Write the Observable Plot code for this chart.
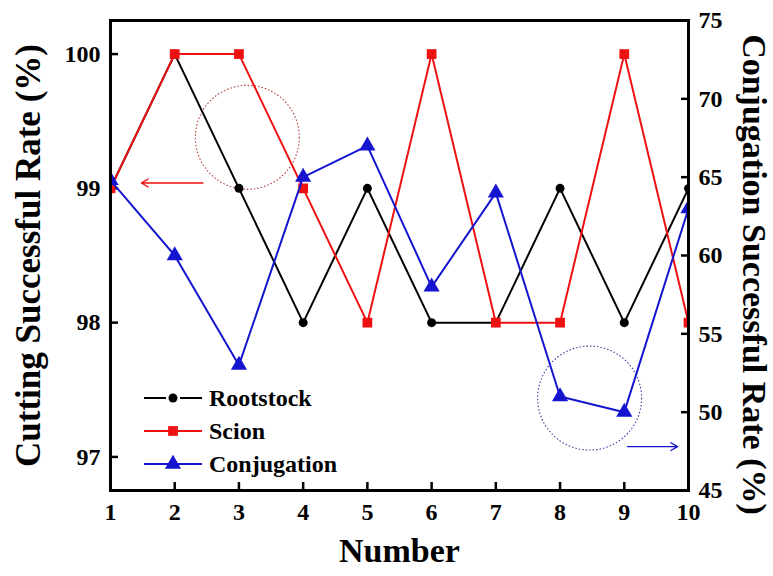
<!DOCTYPE html>
<html>
<head>
<meta charset="utf-8">
<script src="https://cdn.jsdelivr.net/npm/d3@7"></script>
<script src="https://cdn.jsdelivr.net/npm/@observablehq/plot@0.6"></script>
<style>
  html, body { margin: 0; padding: 0; background: #fff; }
  #chart { width: 773px; height: 576px; }
</style>
</head>
<body>
<div id="chart"></div>
<script>
// ---- data ----
const numbers = [1, 2, 3, 4, 5, 6, 7, 8, 9, 10];
const rootstock = [99, 100, 99, 98, 99, 98, 98, 99, 98, 99];
const scion = [99, 100, 100, 99, 98, 100, 98, 98, 100, 98];
const conjugation = [64.8, 60, 53, 65, 67, 58, 64, 51, 50, 63];
const seriesNames = ["Rootstock", "Scion", "Conjugation"];
const seriesColors = ["#000000", "#ee1111", "#1515d0"];
const seriesSymbols = ["circle", "square", "triangle"];
const xTicks = [1, 2, 3, 4, 5, 6, 7, 8, 9, 10];
const leftTicks = [97, 98, 99, 100];
const rightTicks = [45, 50, 55, 60, 65, 70, 75];
const leftDomain = [96.75, 100.25];
const rightDomain = [45, 75];
// annotations (dotted circles and arrows)
const circleX = [3.13, 8.46];
const circleY = [99.38, 50.9];
const circleAxis = ["left", "right"];
const circleColor = ["#b03a3a", "#3a3aa0"];
const arrowX1 = [2.44, 9.05];
const arrowX2 = [1.48, 9.83];
const arrowY = [99.04, 47.8];
const arrowAxis = ["left", "right"];
const arrowColor = ["#ee1111", "#1515d0"];

const FONT = "'Liberation Serif', 'Times New Roman', serif";
const toLeft = v => leftDomain[0] + (v - rightDomain[0]) * (leftDomain[1] - leftDomain[0]) / (rightDomain[1] - rightDomain[0]);
const fromLeft = v => rightDomain[0] + (v - leftDomain[0]) * (rightDomain[1] - rightDomain[0]) / (leftDomain[1] - leftDomain[0]);

const rows = numbers.map((n, i) => ({n, root: rootstock[i], scion: scion[i], conj: toLeft(conjugation[i])}));
const circles = circleX.map((x, i) => ({x, y: circleAxis[i] === "left" ? circleY[i] : toLeft(circleY[i]), c: circleColor[i]}));
const arrows = arrowX1.map((x1, i) => {
  const y = arrowAxis[i] === "left" ? arrowY[i] : toLeft(arrowY[i]);
  return {x1, x2: arrowX2[i], y1: y, y2: y, c: arrowColor[i]};
});

const keys = ["root", "scion", "conj"];
const lineMarks = keys.flatMap((k, i) => [
  Plot.line(rows, {x: "n", y: k, stroke: seriesColors[i], strokeWidth: 2, clip: true}),
  Plot.dot(rows, {x: "n", y: k, fill: seriesColors[i], symbol: seriesSymbols[i], r: i === 0 ? 4.5 : (i === 2 ? 6 : 5.5), clip: true})
]);

const plot = Plot.plot({
  width: 773,
  height: 576,
  marginLeft: 110,
  marginRight: 85,
  marginTop: 20,
  marginBottom: 86,
  style: {fontFamily: FONT, background: "#fff"},
  x: {domain: [1, 10]},
  y: {domain: leftDomain},
  marks: [
    Plot.axisX({ticks: xTicks, tickFormat: d => String(d), tickSize: -8, tickPadding: 20, fontSize: 24, fontWeight: "bold", label: null, strokeWidth: 2.5}),
    Plot.axisY({ticks: leftTicks, tickFormat: d => String(d), tickSize: -8, tickPadding: 18, fontSize: 24, fontWeight: "bold", label: null, strokeWidth: 2.5}),
    Plot.axisY({anchor: "right", ticks: rightTicks.map(toLeft), tickFormat: d => String(Math.round(fromLeft(d))), tickSize: -8, tickPadding: 18, fontSize: 24, fontWeight: "bold", label: null, strokeWidth: 2.5}),
    Plot.dot(circles, {x: "x", y: "y", r: 52, stroke: "c", strokeWidth: 1.1, strokeDasharray: "1.5,2"}),
    Plot.arrow(arrows, {x1: "x1", y1: "y1", x2: "x2", y2: "y2", stroke: "c", strokeWidth: 1.3, headLength: 9}),
    ...lineMarks,
    Plot.frame({strokeWidth: 3, stroke: "#000"}),
    Plot.text(["Cutting Successful Rate (%)"], {frameAnchor: "left", textAnchor: "middle", rotate: -90, dx: -82, fontSize: 35, fontWeight: "bold"}),
    Plot.text(["Conjugation Successful Rate (%)"], {frameAnchor: "right", textAnchor: "middle", rotate: 90, dx: 65, dy: 19, fontSize: 34, fontWeight: "bold"}),
    Plot.text(["Number"], {frameAnchor: "bottom", dy: 71, fontSize: 34, fontWeight: "bold"})
  ]
});
plot.setAttribute("font-family", FONT);
document.getElementById("chart").appendChild(plot);

// ---- legend (inside the plot, lower left) ----
const svg = d3.select(plot);
const lg = svg.append("g").attr("class", "legend").attr("text-anchor", "start");
const symbolTypes = {circle: d3.symbolCircle, square: d3.symbolSquare, triangle: d3.symbolTriangle};
const legendTop = 398, legendStep = 33;
seriesNames.forEach((name, i) => {
  const y = legendTop + i * legendStep;
  const g = lg.append("g").attr("transform", `translate(0,${y})`);
  if (i === 0) {
    g.append("line").attr("x1", 144).attr("x2", 166).attr("stroke", seriesColors[i]).attr("stroke-width", 2);
    g.append("line").attr("x1", 180).attr("x2", 202).attr("stroke", seriesColors[i]).attr("stroke-width", 2);
  } else {
    g.append("line").attr("x1", 144).attr("x2", 202).attr("stroke", seriesColors[i]).attr("stroke-width", 2);
  }
  const r = i === 0 ? 4.5 : (i === 2 ? 6 : 5.5);
  g.append("path").attr("transform", "translate(173,0)")
    .attr("d", d3.symbol(symbolTypes[seriesSymbols[i]], Math.PI * r * r)())
    .attr("fill", seriesColors[i]);
  g.append("text").attr("x", 209).attr("dy", "0.35em").attr("text-anchor", "start")
    .attr("font-size", 24).attr("font-weight", "bold").attr("font-family", FONT)
    .attr("fill", "#000").text(name);
});
</script>
</body>
</html>
